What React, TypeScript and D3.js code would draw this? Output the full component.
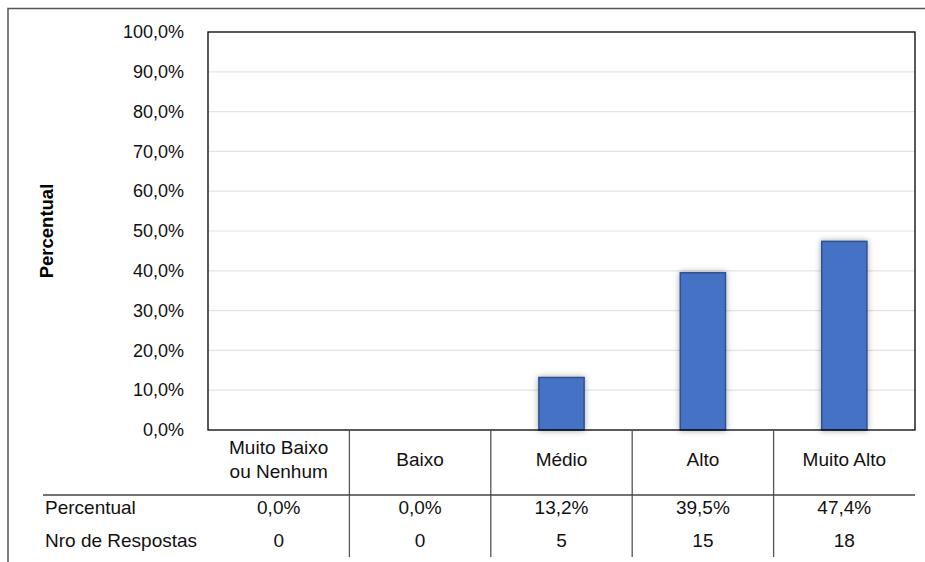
import { useEffect, useRef } from 'react'
import * as d3 from 'd3'

const categories: string[][] = [
  ['Muito Baixo', 'ou Nenhum'],
  ['Baixo'],
  ['Médio'],
  ['Alto'],
  ['Muito Alto']
]
const percentual: number[] = [0, 0, 13.2, 39.5, 47.4]
const respostas: number[] = [0, 0, 5, 15, 18]
const yTicks: number[] = [0, 10, 20, 30, 40, 50, 60, 70, 80, 90, 100]

const fmt = (v: number) => v.toFixed(1).replace('.', ',') + '%'

const W = 925
const H = 562

const BarTable: React.FC = () => {
  const svgRef = useRef<SVGSVGElement>(null)

  useEffect(() => {
    if (!svgRef.current) return
    const svg = d3.select(svgRef.current)
    svg.selectAll('*').remove()

    const margin = { top: 32, right: 10, bottom: 132, left: 208 }
    const x0 = margin.left
    const x1 = W - margin.right
    const yTop = margin.top
    const yBottom = H - margin.bottom
    const font = '"Liberation Sans", Arial, sans-serif'

    const xScale = d3.scaleBand<number>()
      .domain(d3.range(categories.length))
      .range([x0, x1])
      .paddingInner(0)
      .paddingOuter(0)

    const yScale = d3.scaleLinear()
      .domain([0, 100])
      .range([yBottom, yTop])

    // drop shadow for bars
    const defs = svg.append('defs')
    const filter = defs.append('filter')
      .attr('id', 'shadow')
      .attr('x', '-40%').attr('y', '-20%')
      .attr('width', '180%').attr('height', '140%')
    filter.append('feDropShadow')
      .attr('dx', 0).attr('dy', 0)
      .attr('stdDeviation', 3)
      .attr('flood-color', '#000')
      .attr('flood-opacity', 0.35)

    svg.append('rect')
      .attr('width', W).attr('height', H)
      .attr('fill', '#fff')

    // outer frame (top and left edges visible)
    svg.append('path')
      .attr('d', `M8,${H} V8.5 H${W}`)
      .attr('fill', 'none')
      .attr('stroke', '#555')
      .attr('stroke-width', 1.5)

    // grid lines
    svg.append('g')
      .selectAll('line')
      .data(yTicks.filter(t => t > 0 && t < 100))
      .join('line')
      .attr('x1', x0).attr('x2', x1)
      .attr('y1', d => yScale(d)).attr('y2', d => yScale(d))
      .attr('stroke', '#e3e3e3')
      .attr('stroke-width', 1.2)

    // y axis labels
    const yAxis = d3.axisLeft(yScale)
      .tickValues(yTicks)
      .tickFormat(d => fmt(d as number))
      .tickSize(0)
      .tickPadding(24)

    const yg = svg.append('g')
      .attr('transform', `translate(${x0}, 0)`)
      .call(yAxis)
    yg.select('.domain').remove()
    yg.selectAll('text')
      .style('font-family', font)
      .style('font-size', '18px')
      .style('fill', '#111')

    // y axis title
    svg.append('text')
      .attr('transform', `translate(48, ${(yTop + yBottom) / 2}) rotate(-90)`)
      .attr('text-anchor', 'middle')
      .attr('dominant-baseline', 'middle')
      .style('font-family', font)
      .style('font-size', '18.5px')
      .style('font-weight', 'bold')
      .style('fill', '#000')
      .text('Percentual')

    // bars
    const barW = xScale.bandwidth() * 0.32
    svg.append('g')
      .selectAll('rect')
      .data(percentual.map((v, i) => ({ v, i })).filter(d => d.v > 0))
      .join('rect')
      .attr('x', d => xScale(d.i)! + (xScale.bandwidth() - barW) / 2)
      .attr('y', d => yScale(d.v))
      .attr('width', barW)
      .attr('height', d => yBottom - yScale(d.v))
      .attr('fill', '#4472C4')
      .attr('stroke', '#2F528F')
      .attr('stroke-width', 1.5)
      .attr('filter', 'url(#shadow)')

    // plot border
    svg.append('rect')
      .attr('x', x0).attr('y', yTop)
      .attr('width', x1 - x0).attr('height', yBottom - yTop)
      .attr('fill', 'none')
      .attr('stroke', '#000')
      .attr('stroke-width', 1.3)

    // data table
    const tableBottom = 557
    const rowSep = 495
    const catY = 459
    const pctY = 507
    const nroY = 540

    svg.append('g')
      .selectAll('line')
      .data(d3.range(1, categories.length))
      .join('line')
      .attr('x1', d => xScale(d)!).attr('x2', d => xScale(d)!)
      .attr('y1', yBottom).attr('y2', tableBottom)
      .attr('stroke', '#555')
      .attr('stroke-width', 1.3)

    svg.append('line')
      .attr('x1', 43).attr('x2', x1)
      .attr('y1', rowSep).attr('y2', rowSep)
      .attr('stroke', '#444')
      .attr('stroke-width', 1.3)

    const txt = (g: d3.Selection<SVGGElement, unknown, null, undefined>) =>
      g.selectAll('text')
        .style('font-family', font)
        .style('font-size', '19px')
        .style('fill', '#111')

    const catG = svg.append('g')
    categories.forEach((lines, i) => {
      const cx = xScale(i)! + xScale.bandwidth() / 2
      lines.forEach((line, j) => {
        catG.append('text')
          .attr('x', cx)
          .attr('y', catY + (j - (lines.length - 1) / 2) * 24)
          .attr('text-anchor', 'middle')
          .attr('dominant-baseline', 'central')
          .text(line)
      })
    })
    txt(catG)

    const rowG = svg.append('g')
    rowG.append('text')
      .attr('x', 45).attr('y', pctY)
      .attr('dominant-baseline', 'central')
      .text('Percentual')
    rowG.append('text')
      .attr('x', 45).attr('y', nroY)
      .attr('dominant-baseline', 'central')
      .text('Nro de Respostas')
    percentual.forEach((v, i) => {
      rowG.append('text')
        .attr('x', xScale(i)! + xScale.bandwidth() / 2)
        .attr('y', pctY)
        .attr('text-anchor', 'middle')
        .attr('dominant-baseline', 'central')
        .text(fmt(v))
    })
    respostas.forEach((v, i) => {
      rowG.append('text')
        .attr('x', xScale(i)! + xScale.bandwidth() / 2)
        .attr('y', nroY)
        .attr('text-anchor', 'middle')
        .attr('dominant-baseline', 'central')
        .text(String(v))
    })
    txt(rowG)
  }, [])

  return (
    <svg
      ref={svgRef}
      width={W}
      height={H}
      style={{ position: 'fixed', left: 0, top: 0, display: 'block' }}
    />
  )
}

export default function App() {
  return <BarTable />
}
